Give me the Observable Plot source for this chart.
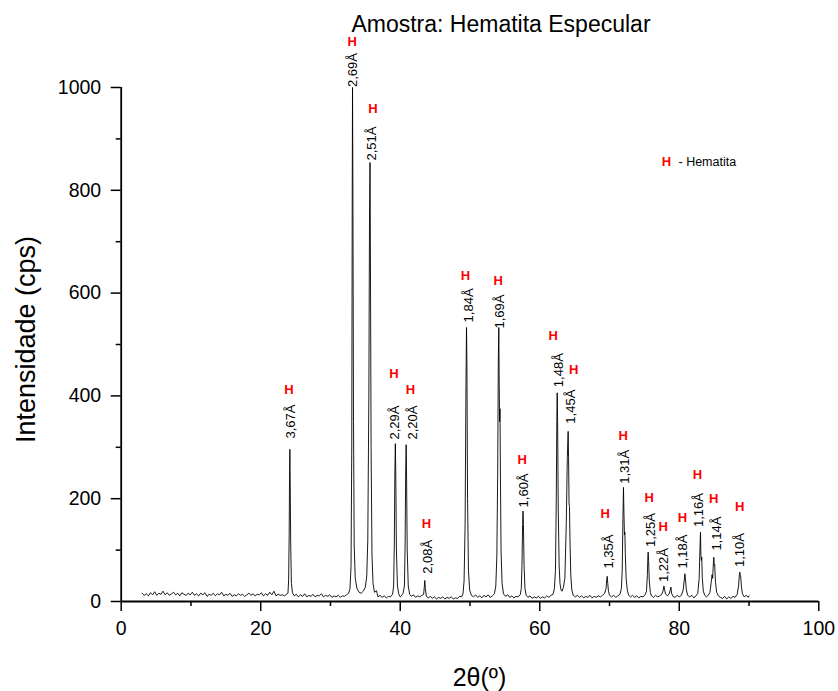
<!DOCTYPE html>
<html>
<head>
<meta charset="utf-8">
<script src="https://cdn.jsdelivr.net/npm/d3@7"></script>
<script src="https://cdn.jsdelivr.net/npm/@observablehq/plot@0.6"></script>
<style>
  html, body { margin: 0; padding: 0; background: #fff; }
</style>
</head>
<body>
<div id="chart"></div>
<script>
// ---- data ----
const titleText = "Amostra: Hematita Especular";
const xLabel = "2θ(º)";
const yLabel = "Intensidade (cps)";

const xTicks = [0, 20, 40, 60, 80, 100];
const xMinor = [10, 30, 50, 70, 90];
const yTicks = [0, 200, 400, 600, 800, 1000];
const yMinor = [100, 300, 500, 700, 900];

// [2θ, intensity (cps)]
const pattern = [
  [3.0,16],[3.3,12],[3.6,15],[3.9,11],[4.2,17],[4.5,13],[4.8,19],[5.1,12],[5.4,16],[5.7,14],
  [6.0,20],[6.3,13],[6.6,17],[6.9,12],[7.2,15],[7.5,18],[7.8,13],[8.1,16],[8.4,11],[8.7,17],
  [9.0,14],[9.3,12],[9.6,16],[9.9,13],[10.2,18],[10.5,12],[10.8,15],[11.1,11],[11.4,16],[11.7,13],
  [12.0,17],[12.3,10],[12.6,14],[12.9,12],[13.2,16],[13.5,11],[13.8,15],[14.1,13],[14.4,18],[14.7,11],
  [15.0,14],[15.3,12],[15.6,16],[15.9,10],[16.2,13],[16.5,11],[16.8,15],[17.1,12],[17.4,14],[17.7,10],
  [18.0,13],[18.3,16],[18.6,12],[18.9,15],[19.2,11],[19.5,14],[19.8,13],[20.1,17],[20.4,11],[20.7,15],
  [21.0,12],[21.3,18],[21.6,13],[21.9,20],[22.2,11],[22.5,14],[22.8,12],[23.1,13],[23.4,11],[23.7,14],
  [23.9,16],[24.0,40],[24.08,130],[24.14,260],[24.18,296],[24.22,240],[24.3,110],[24.4,35],[24.55,17],
  [24.8,11],[25.1,14],[25.4,9],[25.7,13],[26.0,10],[26.3,15],[26.6,9],[26.9,12],[27.2,10],[27.5,14],
  [27.8,9],[28.1,12],[28.4,11],[28.7,15],[29.0,9],[29.3,12],[29.6,10],[29.9,13],[30.2,8],[30.5,11],
  [30.8,9],[31.1,12],[31.4,8],[31.7,11],[32.0,10],[32.3,13],[32.6,16],
  [32.8,25],[32.95,70],[33.05,300],[33.12,800],[33.16,1000],[33.21,820],[33.3,350],[33.4,110],[33.55,45],
  [33.8,25],[34.1,18],[34.4,16],[34.7,20],[35.0,28],[35.2,50],[35.35,120],[35.5,400],[35.6,760],
  [35.67,854],[35.72,700],[35.82,300],[35.95,90],[36.1,35],[36.3,18],[36.6,21],[36.8,9],[37.1,12],
  [37.4,8],[37.7,11],[38.0,7],[38.3,10],[38.6,9],[38.9,14],
  [39.05,30],[39.15,110],[39.23,250],[39.3,307],[39.36,250],[39.45,100],[39.6,30],[39.8,14],[40.0,9],
  [40.2,12],[40.4,16],[40.6,30],[40.7,110],[40.78,250],[40.85,305],[40.91,240],[41.0,100],[41.15,30],
  [41.35,14],[41.6,10],[41.9,13],[42.2,8],[42.5,11],[42.8,9],[43.1,12],[43.35,14],
  [43.45,28],[43.52,41],[43.6,25],[43.75,10],[44.0,7],[44.3,10],[44.6,6],[44.9,9],[45.2,5],[45.5,8],
  [45.8,6],[46.1,9],[46.4,5],[46.7,8],[47.0,6],[47.3,9],[47.6,5],[47.9,7],[48.2,6],[48.5,10],[48.8,9],
  [49.0,15],[49.15,40],[49.3,150],[49.42,420],[49.5,533],[49.56,460],[49.65,200],[49.78,60],[49.95,22],
  [50.2,12],[50.5,9],[50.8,13],[51.1,8],[51.4,11],[51.7,7],[52.0,12],[52.3,9],[52.6,13],[52.9,8],
  [53.2,11],[53.5,15],[53.7,30],[53.85,90],[53.97,250],[54.06,470],[54.13,533],[54.19,420],[54.25,350],
  [54.3,375],[54.36,250],[54.45,100],[54.6,35],[54.8,15],[55.1,10],[55.4,13],[55.7,8],[56.0,11],
  [56.3,7],[56.6,10],[56.9,9],[57.2,13],[57.35,25],[57.45,70],[57.54,150],[57.6,176],[57.66,150],
  [57.75,70],[57.88,25],[58.05,12],[58.3,8],[58.6,11],[58.9,6],[59.2,9],[59.5,7],[59.8,10],[60.1,6],
  [60.4,9],[60.7,7],[61.0,11],[61.3,8],[61.6,12],[61.9,14],[62.1,25],[62.25,60],[62.37,200],[62.45,360],
  [62.5,406],[62.56,350],[62.65,180],[62.78,70],[62.9,35],[63.05,22],[63.2,20],[63.4,28],[63.6,45],
  [63.8,150],[63.95,280],[64.07,331],[64.13,280],[64.2,190],[64.26,185],[64.33,120],[64.45,50],
  [64.6,22],[64.8,12],[65.1,9],[65.4,12],[65.7,8],[66.0,11],[66.3,7],[66.6,10],[66.9,8],[67.2,12],
  [67.5,7],[67.8,10],[68.1,8],[68.4,11],[68.7,9],[69.0,12],[69.3,16],[69.5,25],[69.6,42],[69.67,49],
  [69.75,35],[69.85,20],[70.0,12],[70.3,9],[70.6,12],[70.9,8],[71.2,11],[71.5,14],[71.7,25],
  [71.82,60],[71.92,160],[72.0,222],[72.07,170],[72.14,130],[72.2,135],[72.27,90],[72.38,45],
  [72.55,22],[72.75,12],[73.0,9],[73.3,12],[73.6,8],[73.9,11],[74.2,7],[74.5,10],[74.8,9],[75.1,13],
  [75.3,20],[75.42,50],[75.5,88],[75.54,96],[75.6,80],[75.7,40],[75.85,18],[76.0,11],[76.3,8],
  [76.6,12],[76.9,9],[77.2,11],[77.5,14],[77.7,22],[77.8,30],[77.9,22],[78.05,14],[78.3,11],
  [78.55,15],[78.7,22],[78.8,28],[78.9,16],[79.1,10],[79.4,8],[79.7,12],[80.0,9],[80.3,12],[80.55,22],
  [80.7,40],[80.8,54],[80.88,45],[81.0,24],[81.2,12],[81.5,9],[81.8,12],[82.1,7],[82.4,11],[82.65,16],
  [82.85,45],[82.96,100],[83.04,135],[83.1,90],[83.17,80],[83.22,86],[83.3,45],[83.45,20],[83.65,12],
  [83.9,9],[84.15,12],[84.4,18],[84.6,40],[84.7,52],[84.78,45],[84.87,70],[84.95,86],[85.0,70],
  [85.08,72],[85.18,40],[85.35,18],[85.6,11],[85.9,8],[86.2,6],[86.5,10],[86.8,5],[87.1,9],[87.4,6],
  [87.7,10],[88.0,8],[88.3,14],[88.5,30],[88.6,50],[88.68,57],[88.74,52],[88.8,50],[88.9,30],
  [89.05,15],[89.3,9],[89.6,12],[89.9,8],[90.0,11]
];

// d-spacing labels: text, anchor 2θ, anchor intensity (start of the rotated text)
const peakLabels = ["3,67Å","2,69Å","2,51Å","2,29Å","2,20Å","2,08Å","1,84Å","1,69Å","1,60Å","1,48Å",
                    "1,45Å","1,35Å","1,31Å","1,25Å","1,22Å","1,18Å","1,16Å","1,14Å","1,10Å"];
const labelX = [24.37,33.16,35.95,39.17,41.76,43.9,49.83,54.23,57.67,62.8,
                64.5,69.85,72.25,75.95,77.85,80.49,82.8,85.36,88.66];
const labelY = [317,1001,858,315,315,54,543,531,183,417,
                346,64,229,106,38,64,145,99,67];

// phase markers "H": centre 2θ, centre intensity
const phaseMark = "H";
const markX = [24.03,33.11,36.07,39.08,41.47,43.76,49.35,54.04,57.48,61.93,
               64.88,69.38,71.96,75.68,77.69,80.46,82.61,84.95,88.67];
const markY = [412,1088,958,443,412,151,634,623,276,516,
               451,171,323,201,145,163,246,200,185];

const legendKey = "H";
const legendText = "- Hematita";

// ---- build ----
const points = pattern.map(([x, y]) => ({x, y}));
const labels = peakLabels.map((t, i) => ({t, x: labelX[i], y: labelY[i]}));
const marks = markX.map((x, i) => ({x, y: markY[i]}));

const FONT = "'Liberation Sans', Arial, Helvetica, sans-serif";

const chart = Plot.plot({
  width: 838,
  height: 691,
  marginLeft: 120.7,
  marginRight: 19.7,
  marginTop: 87,
  marginBottom: 90,
  style: {fontFamily: FONT, background: "#fff", color: "#000", overflow: "visible"},
  x: {domain: [0, 100], label: null},
  y: {domain: [0, 1000], label: null},
  marks: [
    Plot.axisX({ticks: xTicks, tickSize: 10, tickPadding: 10, fontSize: 19.5, strokeWidth: 1.5,
                tickFormat: d => String(d), label: null}),
    Plot.axisX({ticks: xMinor, tickSize: 5, text: null, strokeWidth: 1.5, label: null}),
    Plot.axisY({ticks: yTicks, tickSize: 10, tickPadding: 10, fontSize: 19.5, strokeWidth: 1.5,
                tickFormat: d => String(d), label: null}),
    Plot.axisY({ticks: yMinor, tickSize: 5, text: null, strokeWidth: 1.5, label: null}),
    Plot.ruleY([0], {stroke: "#000", strokeWidth: 1.8}),
    Plot.ruleX([0], {stroke: "#000", strokeWidth: 1.8}),
    Plot.line(points, {x: "x", y: "y", stroke: "#000", strokeWidth: 0.9}),
    Plot.text(labels, {x: "x", y: "y", text: "t", rotate: -90, textAnchor: "start",
                       lineAnchor: "middle", fontSize: 13, fill: "#000"}),
    Plot.text(marks, {x: "x", y: "y", text: () => phaseMark, fontSize: 13, fontWeight: "bold",
                      fill: "#ff0000", lineAnchor: "middle", textAnchor: "middle"}),
    Plot.text([legendKey], {frameAnchor: "top-right", dx: -152.3, dy: 74.7, fontSize: 13,
                            fontWeight: "bold", fill: "#ff0000", lineAnchor: "middle",
                            textAnchor: "middle"}),
    Plot.text([legendText], {frameAnchor: "top-right", dx: -140.3, dy: 74.7, fontSize: 12.5,
                             textAnchor: "start", fill: "#000", lineAnchor: "middle"}),
    Plot.text([titleText], {frameAnchor: "top", dx: 31, dy: -63, fontSize: 23, fill: "#000",
                            lineAnchor: "middle", textAnchor: "middle"}),
    Plot.text([yLabel], {frameAnchor: "left", dx: -95, dy: -5, rotate: -90, fontSize: 27,
                         fill: "#000", lineAnchor: "middle", textAnchor: "middle"}),
    Plot.text([xLabel], {frameAnchor: "bottom", dx: 9.5, dy: 76, fontSize: 25, fill: "#000",
                         lineAnchor: "middle", textAnchor: "middle"})
  ]
});
document.getElementById("chart").appendChild(chart);
</script>
</body>
</html>
